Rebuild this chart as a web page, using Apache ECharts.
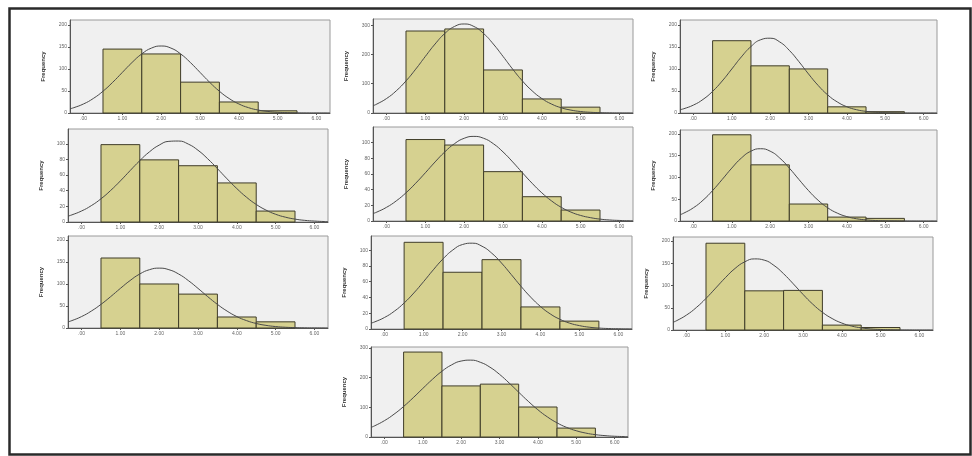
<!DOCTYPE html>
<html>
<head>
<meta charset="utf-8">
<script src="https://cdn.jsdelivr.net/npm/echarts@6/dist/echarts.min.js"></script>
<style>html,body{margin:0;padding:0;background:#fff}#c{width:972px;height:456px}</style>
</head>
<body>
<div id="c"></div>
<script>
// ---- data ----
const xTickValues = [0, 1, 2, 3, 4, 5, 6];
const xTickLabels = ['.00', '1.00', '2.00', '3.00', '4.00', '5.00', '6.00'];
const binStarts = [0.5, 1.5, 2.5, 3.5, 4.5];
const binEnds = [1.5, 2.5, 3.5, 4.5, 5.5];
const curveX = [-0.35, -0.25, 0, 0.25, 0.5, 0.75, 1, 1.25, 1.5, 1.75, 2, 2.25, 2.5, 2.75, 3,
                3.25, 3.5, 3.75, 4, 4.25, 4.5, 4.75, 5, 5.25, 5.5, 5.75, 6, 6.25, 6.35];

const counts1 = [145, 134, 70, 25, 5];
const counts2 = [280, 287, 147, 48, 20];
const counts3 = [164, 107, 100, 14, 3];
const counts4 = [99, 79.5, 72, 50, 14];
const counts5 = [104, 97, 63, 31, 14];
const counts6 = [198, 129, 39, 9, 6];
const counts7 = [159, 100, 77, 25, 14];
const counts8 = [110, 72, 88, 28, 10];
const counts9 = [195, 88, 89, 11, 5.6];
const counts10 = [286, 172, 178, 101, 30];

const curve1 = [9.6, 12.1, 20.6, 32.9, 49.4, 69.6, 92.2, 114.7, 134.1, 147.3, 152, 147.3, 134.1, 114.7, 92.2, 69.6, 49.4, 32.9, 20.6, 12.1, 6.7, 3.5, 1.7, 0.8, 0.3, 0.1, 0.05, 0, 0];
const curve2 = [24.8, 30.6, 49.5, 75.8, 109.5, 149.7, 193.4, 235.6, 271.5, 295.5, 304, 295.5, 271.5, 235.6, 193.4, 149.7, 109.5, 75.8, 49.5, 30.6, 17.9, 9.9, 5.1, 2.5, 1.2, 0.5, 0.2, 0.1, 0];
const curve3 = [7.5, 9.7, 18, 30.8, 49.1, 72.6, 99.8, 127.3, 150.8, 166.1, 169.7, 161.2, 142.1, 116.5, 88.6, 62.7, 41.1, 25.1, 14.2, 7.5, 3.7, 1.7, 0.7, 0.3, 0.1, 0, 0, 0, 0];
const curve4 = [7.5, 9.1, 14.1, 20.9, 29.7, 40.4, 52.6, 65.7, 78.5, 89.8, 98.4, 103.2, 103.6, 99.7, 91.8, 80.9, 68.3, 55.2, 42.8, 31.7, 22.5, 15.3, 9.9, 6.2, 3.7, 2.1, 1.2, 0.6, 0.5];
const curve5 = [9.5, 11.4, 17.5, 25.7, 36, 48.2, 61.6, 75.4, 88.2, 98.7, 105.6, 108, 105.6, 98.7, 88.2, 75.4, 61.6, 48.2, 36, 25.7, 17.5, 11.4, 7.1, 4.3, 2.4, 1.3, 0.7, 0.3, 0.3];
const curve6 = [14.4, 18.1, 30.4, 47.7, 69.9, 95.4, 121.5, 144.6, 160.4, 166, 160.4, 144.6, 121.5, 95.4, 69.9, 47.7, 30.4, 18.1, 10.1, 5.2, 2.5, 1.1, 0.5, 0.2, 0.1, 0, 0, 0, 0];
const curve7 = [13.9, 16.8, 26, 38.4, 53.7, 71.3, 90, 107.8, 122.7, 132.5, 136, 132.5, 122.7, 107.8, 90, 71.3, 53.7, 38.4, 26, 16.8, 10.3, 6.0, 3.3, 1.7, 0.9, 0.4, 0.2, 0.1, 0];
const curve8 = [7.4, 9.1, 14.7, 22.6, 33, 45.7, 60.1, 75.1, 89, 100.2, 107.2, 108.9, 105, 96.2, 83.7, 69.1, 54.2, 40.4, 28.6, 19.2, 12.3, 7.4, 4.3, 2.3, 1.2, 0.6, 0.3, 0.1, 0.1];
const curve9 = [17.3, 21.2, 33.7, 50.4, 71, 94.2, 117.6, 138.4, 153.2, 159.8, 157, 145.2, 126.4, 103.7, 80.1, 58.2, 39.9, 25.8, 15.6, 8.9, 4.8, 2.4, 1.2, 0.5, 0.2, 0.1, 0, 0, 0];
const curve10 = [32.3, 37.9, 55, 76.7, 102.7, 132.2, 163.4, 194, 221.4, 242.7, 255.7, 258.8, 251.6, 235.1, 211, 182, 150.8, 120.1, 91.8, 67.5, 47.7, 32.3, 21.1, 13.2, 7.9, 4.6, 2.5, 1.4, 1.0];

const yTicksA = [0, 50, 100, 150, 200];
const yTicksB = [0, 100, 200, 300];
const yTicksC = [0, 20, 40, 60, 80, 100];
const yTickLabelsA = ['0', '50', '100', '150', '200'];
const yTickLabelsB = ['0', '100', '200', '300'];
const yTickLabelsC = ['0', '20', '40', '60', '80', '100'];
const yMaxes = [211, 321, 211, 119, 120, 209, 209, 118, 209, 303];
const yAxisTitle = 'Frequency';

// ---- layout / style ----
const panels = [
  {counts: counts1, curve: curve1, ticks: yTicksA, labels: yTickLabelsA, box: [70, 20, 260, 93]},
  {counts: counts2, curve: curve2, ticks: yTicksB, labels: yTickLabelsB, box: [373, 19, 260, 94]},
  {counts: counts3, curve: curve3, ticks: yTicksA, labels: yTickLabelsA, box: [680, 20, 257, 93]},
  {counts: counts4, curve: curve4, ticks: yTicksC, labels: yTickLabelsC, box: [68, 129, 260, 93]},
  {counts: counts5, curve: curve5, ticks: yTicksC, labels: yTickLabelsC, box: [373, 127, 260, 94]},
  {counts: counts6, curve: curve6, ticks: yTicksA, labels: yTickLabelsA, box: [680, 130, 257, 91]},
  {counts: counts7, curve: curve7, ticks: yTicksA, labels: yTickLabelsA, box: [68, 236, 260, 92]},
  {counts: counts8, curve: curve8, ticks: yTicksC, labels: yTickLabelsC, box: [371, 236, 261, 93]},
  {counts: counts9, curve: curve9, ticks: yTicksA, labels: yTickLabelsA, box: [673, 237, 260, 93]},
  {counts: counts10, curve: curve10, ticks: yTicksB, labels: yTickLabelsB, box: [371, 347, 257, 90]}
];

const grids = [], xAxes = [], yAxes = [], series = [];

function renderBar(params, api) {
  const p0 = api.coord([api.value(0), api.value(2)]);
  const p1 = api.coord([api.value(1), 0]);
  return {
    type: 'rect',
    shape: {x: p0[0], y: p0[1], width: p1[0] - p0[0], height: p1[1] - p0[1]},
    style: {fill: '#d6d190', stroke: '#3f3c28', lineWidth: 1}
  };
}

panels.forEach((p, i) => {
  grids.push({
    left: p.box[0], top: p.box[1], width: p.box[2], height: p.box[3],
    show: true, backgroundColor: '#f0f0f0', borderColor: '#9a9a9a', borderWidth: 1
  });
  xAxes.push({
    gridIndex: i, type: 'value', min: -0.35, max: 6.35,
    axisLine: {show: true, onZero: false, lineStyle: {color: '#555', width: 1}},
    axisTick: {show: true, length: 2, customValues: xTickValues, lineStyle: {color: '#555'}},
    axisLabel: {
      fontSize: 5, color: '#666', margin: 3, fontFamily: 'Liberation Sans',
      customValues: xTickValues,
      formatter: v => xTickLabels[xTickValues.indexOf(Math.round(v))] || ''
    },
    splitLine: {show: false}
  });
  yAxes.push({
    gridIndex: i, type: 'value', min: 0, max: yMaxes[i],
    name: yAxisTitle, nameLocation: 'middle', nameGap: 24,
    nameTextStyle: {fontSize: 6, fontWeight: 'bold', color: '#333', fontFamily: 'Liberation Sans'},
    axisLine: {show: true, onZero: false, lineStyle: {color: '#555', width: 1}},
    axisTick: {show: true, length: 2, customValues: p.ticks, lineStyle: {color: '#555'}},
    axisLabel: {
      fontSize: 5, color: '#666', margin: 3, fontFamily: 'Liberation Sans',
      customValues: p.ticks,
      formatter: v => p.labels[p.ticks.indexOf(v)] || String(v)
    },
    splitLine: {show: false}
  });
  series.push({
    type: 'custom', xAxisIndex: i, yAxisIndex: i,
    renderItem: renderBar,
    encode: {x: [0, 1], y: 2},
    data: p.counts.map((c, k) => [binStarts[k], binEnds[k], c]),
    silent: true
  });
  series.push({
    type: 'line', xAxisIndex: i, yAxisIndex: i, smooth: true, showSymbol: false,
    clip: true, z: 5, silent: true,
    lineStyle: {color: '#4a4a4a', width: 1},
    data: curveX.map((x, k) => [x, p.curve[k]])
  });
});

const chart = echarts.init(document.getElementById('c'), null, {renderer: 'canvas'});
chart.setOption({
  animation: false,
  backgroundColor: '#ffffff',
  grid: grids, xAxis: xAxes, yAxis: yAxes, series: series,
  graphic: [{
    type: 'rect', left: 7, top: 6, z: 100, silent: true,
    shape: {width: 961, height: 446},
    style: {fill: 'none', stroke: '#2a2a2a', lineWidth: 2.5}
  }]
});
</script>
</body>
</html>
